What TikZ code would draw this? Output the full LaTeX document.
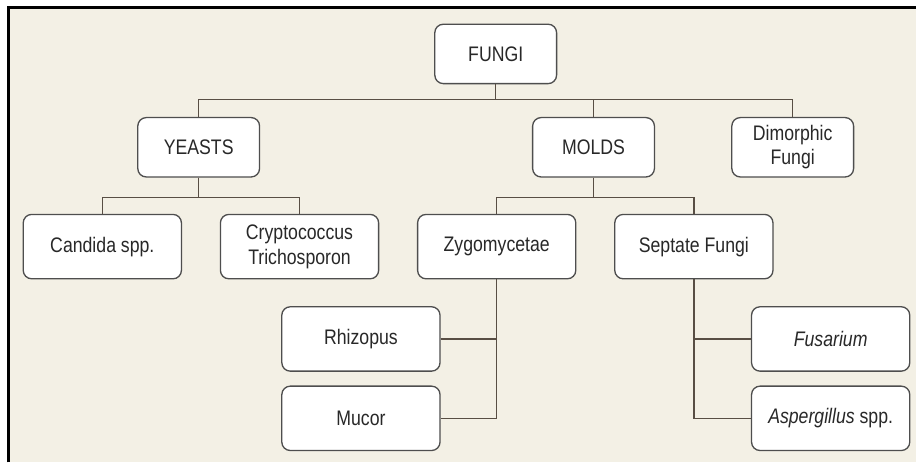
\documentclass[tikz,border=0pt]{standalone}
\usepackage{fontspec}
\setmainfont{Liberation Sans}[FakeStretch=0.84]
\definecolor{paper}{RGB}{243,240,229}
\definecolor{boxline}{RGB}{78,78,78}
\definecolor{wire}{RGB}{88,78,68}
\definecolor{ink}{RGB}{40,40,40}
\tikzset{
	taxon/.style={draw=boxline, line width=0.75pt, fill=white, rounded corners=0.17cm,
		text=ink, align=center, inner sep=1pt, font=\fontsize{12}{14}\selectfont},
	small/.style={taxon, minimum width=2.44cm, minimum height=1.19cm},
	wide/.style={taxon, minimum width=3.17cm, minimum height=1.29cm},
	link/.style={draw=wire, line width=0.75pt}
}

\begin{document}
\begin{tikzpicture}[x=0.02cm, y=-0.02cm]
		%%%%% START %%%%%
		
		\fill[paper] (0, 0) rectangle (917, 463);
		\fill[white] (0, 0) rectangle (917, 6);
		\fill[white] (0, 0) rectangle (7, 463);
		\draw[line width=1.7pt, black] (8.5, 463) -- (8.5, 7.5) -- (917, 7.5);
		
		\node[small] (fungi) at (496.5, 54) {FUNGI};
		
		\node[small] (yeasts) at (199, 147.5) {YEASTS};
		\node[small] (molds) at (594.5, 147.5) {MOLDS};
		\node[small] (dimorphic) at (794, 147.5) {Dimorphic\\Fungi};
		
		\node[wide] (candida) at (102.5, 247) {Candida spp.};
		\node[wide] (crypto) at (300, 247) {Cryptococcus\\Trichosporon};
		\node[wide] (zygo) at (497.5, 247) {Zygomycetae};
		\node[wide] (septate) at (695, 247) {Septate Fungi};
		
		\node[wide] (rhizopus) at (361.5, 339.5) {Rhizopus};
		\node[wide] (mucor) at (361.5, 419) {Mucor};
		\node[wide] (fusarium) at (832, 339.5) {\itshape Fusarium};
		\node[wide] (asper) at (832, 419) {\textit{Aspergillus} spp.};
		
		\draw[link] (fungi.south) -- ++(0, 15) -| (yeasts.north);
		\draw[link] (fungi.south) -- ++(0, 15) -| (molds.north);
		\draw[link] (fungi.south) -- ++(0, 15) -| (dimorphic.north);
		
		\draw[link] (yeasts.south) -- ++(0, 20) -| (candida.north);
		\draw[link] (yeasts.south) -- ++(0, 20) -| (crypto.north);
		\draw[link] (molds.south) -- ++(0, 20) -| (zygo.north);
		\draw[link] (molds.south) -- ++(0, 20) -| (septate.north);
		
		\draw[link] (zygo.south) |- (mucor.east);
		\draw[link] (rhizopus.east) -| (zygo.south);
		\draw[link] (septate.south) |- (asper.west);
		\draw[link] (fusarium.west) -| (septate.south);
		
		%%%%% END %%%%%
	\end{tikzpicture}
\end{document}
